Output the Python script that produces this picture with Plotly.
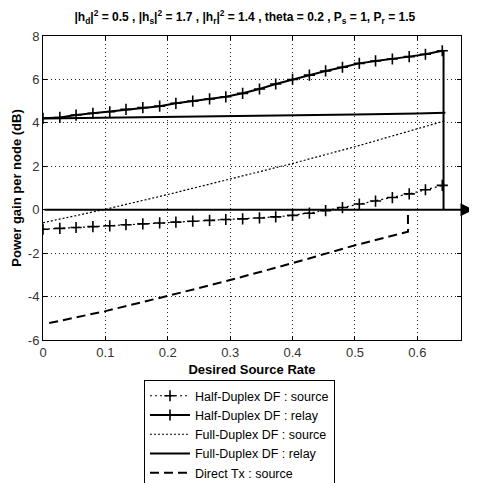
import plotly.graph_objects as go

# ---- data ----
rates = [0.000, 0.027, 0.053, 0.080, 0.107, 0.133, 0.160, 0.187, 0.213, 0.240,
         0.267, 0.293, 0.320, 0.347, 0.373, 0.400, 0.427, 0.453, 0.480, 0.507,
         0.533, 0.560, 0.587, 0.613, 0.640]
hd_source = [-0.90, -0.86, -0.82, -0.78, -0.74, -0.69, -0.65, -0.61, -0.57, -0.53,
             -0.49, -0.45, -0.42, -0.38, -0.33, -0.26, -0.16, -0.04, 0.10, 0.26,
             0.40, 0.56, 0.73, 0.92, 1.12]
hd_relay = [4.21, 4.25, 4.36, 4.44, 4.51, 4.62, 4.70, 4.77, 4.90, 5.00,
            5.10, 5.20, 5.36, 5.56, 5.79, 6.00, 6.20, 6.39, 6.56, 6.74,
            6.85, 6.94, 7.05, 7.16, 7.32]

fd_rates = [0.0, 0.1, 0.2, 0.3, 0.4, 0.5, 0.6, 0.645]
fd_source = [-0.60, 0.02, 0.70, 1.40, 2.13, 2.90, 3.75, 4.10]
fd_relay = [4.20, 4.23, 4.26, 4.29, 4.33, 4.38, 4.43, 4.46]

dt_rates = [0.01, 0.1, 0.2, 0.3, 0.4, 0.5, 0.585, 0.585]
dt_source = [-5.22, -4.67, -3.97, -3.24, -2.46, -1.64, -1.01, -0.20]

hd_cutoff_rate = [0.642, 0.642]
hd_cutoff_gain = [7.32, 0.0]

arrow_from = 0.0
arrow_to = 0.69

x_ticks = [0, 0.1, 0.2, 0.3, 0.4, 0.5, 0.6]
x_ticklabels = ["0", "0.1", "0.2", "0.3", "0.4", "0.5", "0.6"]
y_ticks = [-6, -4, -2, 0, 2, 4, 6, 8]
y_ticklabels = ["-6", "-4", "-2", "0", "2", "4", "6", "8"]

names = ["Half-Duplex DF : source", "Half-Duplex DF : relay",
         "Full-Duplex DF : source", "Full-Duplex DF : relay",
         "Direct Tx : source"]

title_text = ("<b>|h<sub>d</sub>|<sup>2</sup> = 0.5 , |h<sub>s</sub>|<sup>2</sup> = 1.7 , "
              "|h<sub>r</sub>|<sup>2</sup> = 1.4 , theta = 0.2 , P<sub>s</sub> = 1, "
              "P<sub>r</sub> = 1.5</b>")

FONT = "Liberation Sans"
plus = dict(symbol="cross-thin", size=8, color="black",
            line=dict(color="black", width=1.6))

fig = go.Figure()
fig.add_trace(go.Scatter(x=rates, y=hd_source, name=names[0], mode="lines+markers",
                         line=dict(color="black", width=1.2, dash="2px,3px"),
                         marker=plus))
fig.add_trace(go.Scatter(x=rates, y=hd_relay, name=names[1], mode="lines+markers",
                         line=dict(color="black", width=2), marker=plus))
fig.add_trace(go.Scatter(x=fd_rates, y=fd_source, name=names[2], mode="lines",
                         line=dict(color="black", width=1.2, dash="2px,2px")))
fig.add_trace(go.Scatter(x=fd_rates, y=fd_relay, name=names[3], mode="lines",
                         line=dict(color="black", width=2)))
fig.add_trace(go.Scatter(x=dt_rates, y=dt_source, name=names[4], mode="lines",
                         line=dict(color="black", width=2, dash="9px,5px")))
fig.add_trace(go.Scatter(x=hd_cutoff_rate, y=hd_cutoff_gain, mode="lines",
                         showlegend=False, line=dict(color="black", width=2)))

fig.add_annotation(x=arrow_to, y=0, ax=arrow_from, ay=0, xref="x", yref="y",
                   axref="x", ayref="y", text="", showarrow=True,
                   arrowhead=2, arrowsize=1.3, arrowwidth=2, arrowcolor="black")

axis_common = dict(showline=True, linecolor="black", linewidth=1, mirror="ticks",
                   ticks="inside", ticklen=4, tickcolor="black",
                   showgrid=True, gridcolor="#222", gridwidth=1, griddash="1px,3px",
                   zeroline=False, automargin=False,
                   tickfont=dict(family=FONT, size=13, color="#333"))

fig.update_xaxes(range=[0, 0.67], tickvals=x_ticks, ticktext=x_ticklabels,
                 title=dict(text="<b>Desired Source Rate</b>", standoff=6,
                            font=dict(family=FONT, size=13, color="black")),
                 **axis_common)
fig.update_yaxes(range=[-6, 8], tickvals=y_ticks, ticktext=y_ticklabels,
                 title=dict(text="<b>Power gain per node (dB)</b>", standoff=3,
                            font=dict(family=FONT, size=13, color="black")),
                 **axis_common)

# the page body adds an 8px offset, so the figure is sized 8px smaller
fig.update_layout(
    width=469, height=475,
    margin=dict(l=35, r=16, t=28, b=143, autoexpand=False),
    paper_bgcolor="white", plot_bgcolor="white",
    font=dict(family=FONT, size=13, color="black"),
    title=dict(text=title_text, x=0.505, xanchor="center", y=0.981, yanchor="middle",
               yref="container", font=dict(family=FONT, size=12, color="black")),
    legend=dict(x=0.2416, xanchor="left", y=-0.132, yanchor="top",
                bgcolor="white", bordercolor="black", borderwidth=1,
                font=dict(family=FONT, size=12.5, color="black"),
                itemwidth=40, tracegroupgap=0),
    showlegend=True,
)

fig.write_html("out.html")
